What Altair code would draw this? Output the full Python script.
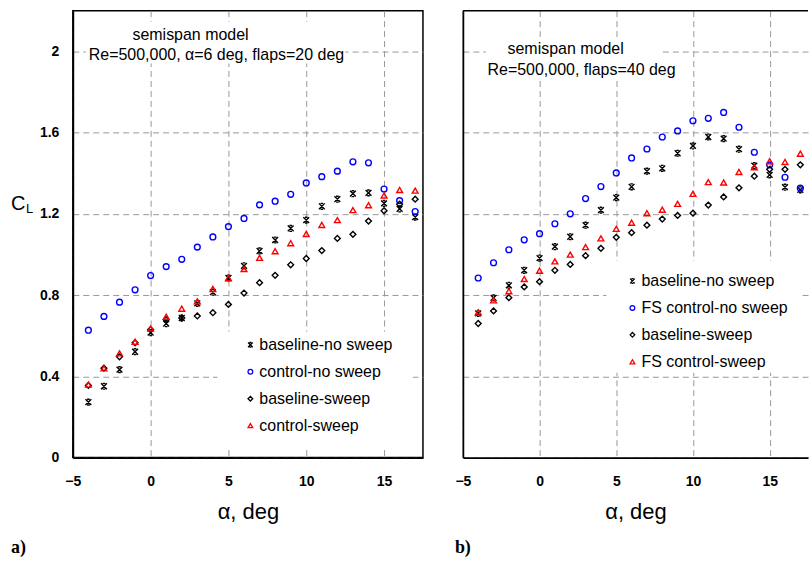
import altair as alt
import pandas as pd

FONT = "Liberation Sans"

alpha = list(range(-4, 18))

# a) semispan model, Re=500,000, alpha=6 deg, flaps=20 deg
names_a = ["baseline-no sweep", "control-no sweep", "baseline-sweep", "control-sweep"]
a_baseline_nosweep = [0.273, 0.351, 0.433, 0.521, 0.615, 0.659, 0.687, 0.759, 0.814, 0.884, 0.944,
                      1.017, 1.071, 1.128, 1.169, 1.237, 1.272, 1.299, 1.303, 1.251, 1.224, 1.184]
a_control_nosweep = [0.627, 0.695, 0.765, 0.826, 0.896, 0.940, 0.976, 1.036, 1.086, 1.137, 1.177,
                     1.244, 1.262, 1.296, 1.352, 1.383, 1.410, 1.456, 1.451, 1.322, 1.265, 1.211]
a_baseline_sweep = [0.355, 0.440, 0.496, 0.565, 0.630, 0.679, 0.687, 0.697, 0.713, 0.754, 0.810,
                    0.861, 0.897, 0.949, 0.980, 1.019, 1.079, 1.099, 1.164, 1.215, 1.247, 1.272]
a_control_sweep = [0.359, 0.439, 0.513, 0.570, 0.635, 0.693, 0.733, 0.769, 0.830, 0.883, 0.928,
                   0.983, 1.016, 1.055, 1.101, 1.145, 1.169, 1.218, 1.242, 1.290, 1.317, 1.314]

# b) semispan model, Re=500,000, flaps=40 deg
names_b = ["baseline-no sweep", "FS control-no sweep", "baseline-sweep", "FS control-sweep"]
b_baseline_nosweep = [0.710, 0.786, 0.848, 0.922, 0.982, 1.038, 1.087, 1.144, 1.218, 1.280, 1.333,
                      1.410, 1.424, 1.498, 1.534, 1.578, 1.570, 1.518, 1.437, 1.392, 1.331, 1.318]
b_control_nosweep = [0.884, 0.959, 1.023, 1.072, 1.102, 1.151, 1.200, 1.275, 1.334, 1.401, 1.475,
                     1.519, 1.578, 1.608, 1.658, 1.670, 1.699, 1.626, 1.503, 1.441, 1.380, 1.326]
b_baseline_sweep = [0.660, 0.722, 0.787, 0.840, 0.866, 0.922, 0.951, 0.994, 1.030, 1.084, 1.107,
                    1.144, 1.174, 1.192, 1.203, 1.243, 1.283, 1.328, 1.385, 1.419, 1.419, 1.441]
b_control_sweep = [0.715, 0.774, 0.819, 0.879, 0.920, 0.966, 0.999, 1.036, 1.079, 1.126, 1.156,
                   1.203, 1.220, 1.249, 1.298, 1.356, 1.354, 1.406, 1.429, 1.459, 1.455, 1.496]

x_ticks = [-5, 0, 5, 10, 15]
y_ticks = [0, 0.4, 0.8, 1.2, 1.6, 2.0]

# crossed marker with short bars on top and bottom
marker_x = "M-1,-1L1,1M1,-1L-1,1M-0.45,-1L0.45,-1M-0.45,1L0.45,1"
shapes = [marker_x, "circle", "diamond", "triangle-up"]
colors = ["#000000", "#0000ff", "#000000", "#ff0000"]

PLOT_H = 448
one = pd.DataFrame({"k": [0]})


def long_table(names, columns):
    rows = []
    for name, vals in zip(names, columns):
        for a, v in zip(alpha, vals):
            rows.append({"alpha": a, "cl": v, "series": name})
    return pd.DataFrame(rows)


def white_box(x0, x1, y0, y1):
    return alt.Chart(one).mark_rect(color="white").encode(
        x=alt.value(x0), x2=alt.value(x1), y=alt.value(y0), y2=alt.value(y1))


def label(text, x, y, size=16, align="center", weight="normal", font=FONT):
    return alt.Chart(one).mark_text(
        text=text, align=align, baseline="middle", fontSize=size, font=font,
        fontWeight=weight, color="black").encode(x=alt.value(x), y=alt.value(y))


def panel(names, columns, width, show_y, legend_xy, legend_box, notes, note_box, letter, letter_x):
    df = long_table(names, columns)
    legend = alt.Legend(title=None, orient="none", legendX=legend_xy[0], legendY=legend_xy[1],
                        labelFont=FONT, labelFontSize=16, labelColor="black",
                        symbolSize=22, symbolStrokeWidth=1.3, rowPadding=11,
                        labelOffset=1, padding=0)
    x_enc = alt.X("alpha:Q", scale=alt.Scale(domain=[-5, 17.5], nice=False, zero=False),
                  axis=alt.Axis(values=x_ticks, title="α, deg", labelPadding=17,
                                titlePadding=13, labelFlush=False))
    y_enc = alt.Y("cl:Q", scale=alt.Scale(domain=[0, 2.2], nice=False),
                  axis=alt.Axis(values=y_ticks, title=None, labels=show_y, format="~g",
                                labelPadding=14))
    pts = alt.Chart(df).mark_point(filled=False, size=34, strokeWidth=1.4, opacity=1).encode(
        x=x_enc, y=y_enc,
        shape=alt.Shape("series:N", scale=alt.Scale(domain=names, range=shapes), legend=legend),
        color=alt.Color("series:N", scale=alt.Scale(domain=names, range=colors), legend=legend),
    )
    layers = [white_box(*note_box), white_box(*legend_box), pts]
    for text, x, y in notes:
        layers.append(label(text, x, y))
    layers.append(label(letter, letter_x, PLOT_H + 91, size=18, align="left",
                        weight="bold", font="Liberation Serif"))
    return layers


left_layers = panel(
    names_a, [a_baseline_nosweep, a_control_nosweep, a_baseline_sweep, a_control_sweep],
    351, True, (170, 327), (145, 341, 322, 437),
    [("semispan model", 118, 24), ("Re=500,000, α=6 deg, flaps=20 deg", 144, 44)],
    (13, 273, 11, 53), "a)", -62)
left_layers.append(label("C", -62, 194, size=20, align="left"))
left_layers.append(label("L", -47, 199, size=13, align="left"))
left = alt.layer(*left_layers).properties(width=351, height=PLOT_H)

W_RIGHT = 346
right_layers = panel(
    names_b, [b_baseline_nosweep, b_control_nosweep, b_baseline_sweep, b_control_sweep],
    W_RIGHT, False, (162, 263), (144, 340, 251, 363),
    [("semispan model", 103, 38), ("Re=500,000, flaps=40 deg", 119, 59)],
    (23, 197, 27, 69), "b)", -8)
right_layers.append(
    alt.Chart(one).mark_rule(color="black", strokeWidth=1.5).encode(
        x=alt.value(0), x2=alt.value(W_RIGHT), y=alt.value(0)))
right = alt.layer(*right_layers).properties(
    width=W_RIGHT, height=PLOT_H, view=alt.ViewBackground(stroke="transparent"))

chart = (
    alt.hconcat(left, right, spacing=40, bounds="flush")
    .resolve_scale(color="independent", shape="independent")
    .properties(padding={"left": 10, "top": 8, "right": 0, "bottom": 2})
    .configure_view(stroke="black", strokeWidth=1.5)
    .configure_axis(
        grid=True, gridColor="#999999", gridDash=[6, 4], gridWidth=1,
        domain=True, domainColor="black", domainWidth=1.8,
        ticks=False,
        labelFont=FONT, labelFontSize=14, labelFontWeight="bold", labelColor="black",
        titleFont=FONT, titleFontSize=22, titleFontWeight="normal", titleColor="black",
    )
)

chart.save("out.html", embed_options={"renderer": "svg", "actions": False})
